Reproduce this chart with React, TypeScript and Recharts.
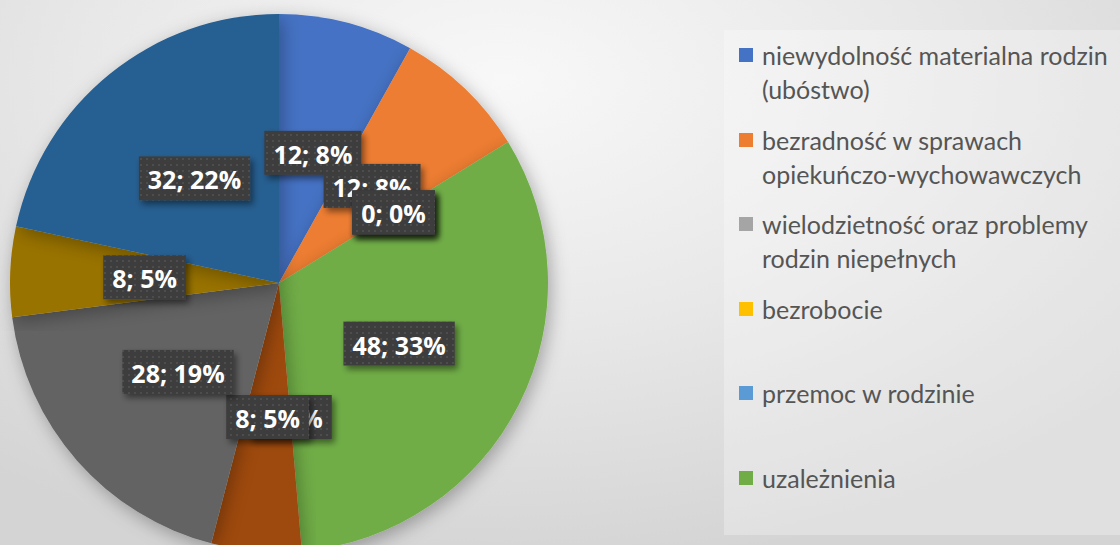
import React from 'react'
import { PieChart, Pie, Cell, Legend } from 'recharts'

// Kategorie problemów (kolejność jak w arkuszu, kolory z domyślnej palety Excela)
const categories = [
  'niewydolność materialna rodzin (ubóstwo)',
  'bezradność w sprawach opiekuńczo-wychowawczych',
  'wielodzietność oraz problemy rodzin niepełnych',
  'bezrobocie',
  'przemoc w rodzinie',
  'uzależnienia',
  'bezdomność',
  'niepełnosprawność',
  'długotrwała lub ciężka choroba',
  'alkoholizm',
  'inne',
]
const counts = [12, 12, 0, 0, 0, 48, 0, 8, 28, 8, 32]
const percentLabels = [8, 8, 0, 0, 0, 33, 0, 5, 19, 5, 22]
const colors = [
  '#4472C4', '#ED7D31', '#A5A5A5', '#FFC000', '#5B9BD5', '#70AD47',
  '#264478', '#9E480E', '#636363', '#997300', '#255E91',
]

const data = categories.map((name, i) => ({ name, value: counts[i] }))

const RAD = Math.PI / 180
const LABEL_FONT = '700 25px "Open Sans"'

let ctx: CanvasRenderingContext2D | null = null
function textWidth(s: string) {
  if (!ctx) ctx = document.createElement('canvas').getContext('2d')
  if (!ctx) return s.length * 14
  ctx.font = LABEL_FONT
  return ctx.measureText(s).width
}

const renderLabel = (props: any) => {
  const { cx, cy, midAngle, outerRadius, index } = props
  const r = outerRadius * 0.5
  const x = cx + r * Math.cos(-midAngle * RAD)
  const y = cy + r * Math.sin(-midAngle * RAD)
  const text = `${counts[index]}; ${percentLabels[index]}%`
  const w = textWidth(text) + 18
  const h = 44
  return (
    <g key={`lbl-${index}`}>
      <rect x={x - w / 2} y={y - h / 2} width={w} height={h} fill="url(#dots)" filter="url(#boxShadow)" />
      <text
        x={x}
        y={y + 1}
        textAnchor="middle"
        dominantBaseline="central"
        fill="#ffffff"
        fontSize={25}
        fontWeight={700}
        fontFamily='"Open Sans", sans-serif'
      >
        {text}
      </text>
    </g>
  )
}

const renderLegend = () => {
  // only the first six entries fit in the legend box, the rest are cut off
  const items = categories.slice(0, 6)
  return (
    <div style={{ paddingTop: 8 }}>
      {items.map((name, i) => (
        <div key={i} style={{ display: 'flex', alignItems: 'flex-start', height: 84.5 }}>
          <span
            style={{
              display: 'inline-block',
              width: 14,
              height: 14,
              background: colors[i],
              marginLeft: 15,
              marginTop: 10,
              marginRight: 9,
              flexShrink: 0,
            }}
          />
          <span
            style={{
              width: 368,
              fontFamily: 'Lato, sans-serif',
              fontSize: 25,
              lineHeight: '34px',
              color: '#555555',
            }}
          >
            {name}
          </span>
        </div>
      ))}
    </div>
  )
}

export default function App() {
  return (
    <div
      style={{
        width: 1120,
        height: 545,
        position: 'relative',
        overflow: 'hidden',
        background: 'radial-gradient(ellipse 75% 90% at 45% 15%, #f8f8f8 0%, #e8e8e8 50%, #d4d4d4 100%)',
      }}
    >
      <style>{'body{margin:0}'}</style>
      <div
        style={{
          position: 'absolute',
          left: 724,
          top: 30,
          width: 400,
          height: 505,
          background: 'rgba(255,255,255,0.28)',
        }}
      />
      <PieChart
        width={1120}
        height={545}
        margin={{ top: 0, right: 0, bottom: 0, left: 0 }}
        style={{ position: 'absolute', left: 0, top: 0 }}
      >
        <defs>
          <pattern id="dots" width="6" height="6" patternUnits="userSpaceOnUse">
            <rect width="6" height="6" fill="#3d3d3d" />
            <circle cx="3" cy="3" r="0.9" fill="#555555" />
          </pattern>
          <filter id="boxShadow" x="-20%" y="-30%" width="150%" height="170%">
            <feDropShadow dx="3" dy="4" stdDeviation="3" floodColor="#000" floodOpacity="0.45" />
          </filter>
          <filter id="pieShadow" x="-10%" y="-10%" width="125%" height="125%">
            <feDropShadow dx="3" dy="5" stdDeviation="9" floodColor="#000" floodOpacity="0.3" />
          </filter>
        </defs>
        <Pie
          data={data}
          dataKey="value"
          nameKey="name"
          cx={279}
          cy={283}
          outerRadius={269}
          startAngle={90}
          endAngle={-270}
          stroke="none"
          labelLine={false}
          label={renderLabel}
          isAnimationActive={false}
          style={{ filter: 'url(#pieShadow)' }}
        >
          {data.map((_, i) => (
            <Cell key={i} fill={colors[i]} />
          ))}
        </Pie>
        <Legend
          content={renderLegend}
          layout="vertical"
          wrapperStyle={{ position: 'absolute', left: 724, top: 30, width: 396, height: 505 }}
        />
      </PieChart>
    </div>
  )
}
